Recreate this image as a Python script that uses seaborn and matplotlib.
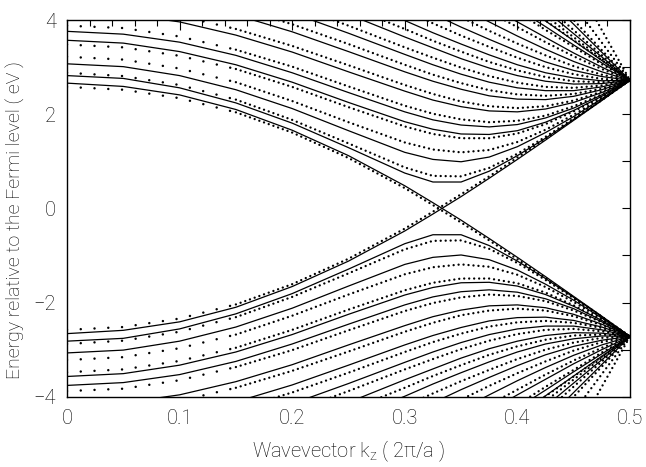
import numpy as np
import pandas as pd
import matplotlib
matplotlib.use("Agg")
import matplotlib.pyplot as plt
from matplotlib.ticker import MultipleLocator
import seaborn as sns

# Wavevector sampling (units of 2*pi/a) shared by all bands
k_grid = [0.0, 0.05, 0.1, 0.15, 0.2, 0.25, 0.3, 0.325, 0.35, 0.375, 0.4, 0.425, 0.45, 0.475, 0.5]

# Conduction subbands, solid curves (eV)
cond_lines = [
    [2.82, 2.76, 2.56, 2.24, 1.81, 1.29, 0.75, 0.56, 0.56, 0.79, 1.12, 1.49, 1.89, 2.30, 2.72],
    [3.07, 3.01, 2.82, 2.52, 2.12, 1.65, 1.19, 1.04, 0.99, 1.09, 1.31, 1.61, 1.95, 2.33, 2.72],
    [3.57, 3.51, 3.33, 3.05, 2.68, 2.25, 1.84, 1.68, 1.58, 1.57, 1.65, 1.83, 2.08, 2.38, 2.72],
    [3.76, 3.70, 3.53, 3.25, 2.88, 2.46, 2.05, 1.88, 1.77, 1.73, 1.78, 1.92, 2.13, 2.41, 2.72],
    [4.19, 4.13, 3.96, 3.68, 3.32, 2.90, 2.49, 2.30, 2.16, 2.07, 2.05, 2.11, 2.25, 2.46, 2.72],
    [4.62, 4.56, 4.39, 4.11, 3.75, 3.33, 2.90, 2.70, 2.53, 2.39, 2.32, 2.31, 2.38, 2.52, 2.72],
    [5.02, 4.96, 4.79, 4.51, 4.15, 3.72, 3.27, 3.05, 2.85, 2.68, 2.56, 2.50, 2.50, 2.58, 2.72],
    [5.44, 5.38, 5.21, 4.93, 4.56, 4.12, 3.64, 3.41, 3.18, 2.98, 2.82, 2.70, 2.64, 2.65, 2.72],
    [5.83, 5.77, 5.60, 5.32, 4.94, 4.48, 3.99, 3.73, 3.49, 3.26, 3.05, 2.88, 2.77, 2.71, 2.72],
    [6.32, 6.26, 6.08, 5.79, 5.40, 4.93, 4.40, 4.13, 3.85, 3.59, 3.34, 3.11, 2.93, 2.80, 2.72],
    [6.88, 6.82, 6.63, 6.33, 5.93, 5.43, 4.87, 4.57, 4.27, 3.96, 3.66, 3.38, 3.12, 2.90, 2.72],
    [7.40, 7.34, 7.15, 6.83, 6.41, 5.90, 5.30, 4.98, 4.64, 4.30, 3.96, 3.63, 3.30, 3.00, 2.72],
    [7.88, 7.82, 7.62, 7.30, 6.86, 6.32, 5.69, 5.35, 4.99, 4.62, 4.24, 3.86, 3.47, 3.09, 2.72],
]

# Valence subbands, solid curves (eV)
val_lines = [
    [-2.82, -2.76, -2.56, -2.24, -1.81, -1.29, -0.75, -0.56, -0.56, -0.79, -1.12, -1.49, -1.89, -2.30, -2.72],
    [-3.07, -3.01, -2.82, -2.52, -2.12, -1.65, -1.19, -1.04, -0.99, -1.09, -1.31, -1.61, -1.95, -2.33, -2.72],
    [-3.57, -3.51, -3.33, -3.05, -2.68, -2.25, -1.84, -1.68, -1.58, -1.57, -1.65, -1.83, -2.08, -2.38, -2.72],
    [-3.76, -3.70, -3.53, -3.25, -2.88, -2.46, -2.05, -1.88, -1.77, -1.73, -1.78, -1.92, -2.13, -2.41, -2.72],
    [-4.19, -4.13, -3.96, -3.68, -3.32, -2.90, -2.49, -2.30, -2.16, -2.07, -2.05, -2.11, -2.25, -2.46, -2.72],
    [-4.62, -4.56, -4.39, -4.11, -3.75, -3.33, -2.90, -2.70, -2.53, -2.39, -2.32, -2.31, -2.38, -2.52, -2.72],
    [-5.02, -4.96, -4.79, -4.51, -4.15, -3.72, -3.27, -3.05, -2.85, -2.68, -2.56, -2.50, -2.50, -2.58, -2.72],
    [-5.44, -5.38, -5.21, -4.93, -4.56, -4.12, -3.64, -3.41, -3.18, -2.98, -2.82, -2.70, -2.64, -2.65, -2.72],
    [-5.83, -5.77, -5.60, -5.32, -4.94, -4.48, -3.99, -3.73, -3.49, -3.26, -3.05, -2.88, -2.77, -2.71, -2.72],
    [-6.32, -6.26, -6.08, -5.79, -5.40, -4.93, -4.40, -4.13, -3.85, -3.59, -3.34, -3.11, -2.93, -2.80, -2.72],
    [-6.88, -6.82, -6.63, -6.33, -5.93, -5.43, -4.87, -4.57, -4.27, -3.96, -3.66, -3.38, -3.12, -2.90, -2.72],
    [-7.40, -7.34, -7.15, -6.83, -6.41, -5.90, -5.30, -4.98, -4.64, -4.30, -3.96, -3.63, -3.30, -3.00, -2.72],
    [-7.88, -7.82, -7.62, -7.30, -6.86, -6.32, -5.69, -5.35, -4.99, -4.62, -4.24, -3.86, -3.47, -3.09, -2.72],
]

# Crossing (metallic) bands, solid curves (eV)
cross_lines = [
    [2.66, 2.59, 2.41, 2.10, 1.66, 1.12, 0.48, 0.12, -0.25, -0.64, -1.04, -1.45, -1.87, -2.29, -2.72],
    [-2.66, -2.59, -2.41, -2.10, -1.66, -1.12, -0.48, -0.12, 0.25, 0.64, 1.04, 1.45, 1.87, 2.29, 2.72],
]

# Second calculation, drawn as dots (eV)
cond_dots = [
    [2.88, 2.81, 2.62, 2.31, 1.88, 1.38, 0.87, 0.69, 0.68, 0.86, 1.16, 1.52, 1.91, 2.31, 2.72],
    [3.22, 3.16, 2.97, 2.68, 2.28, 1.83, 1.40, 1.25, 1.19, 1.24, 1.41, 1.67, 1.99, 2.34, 2.72],
    [3.48, 3.42, 3.24, 2.96, 2.58, 2.15, 1.74, 1.58, 1.49, 1.49, 1.59, 1.79, 2.06, 2.37, 2.72],
    [3.88, 3.83, 3.65, 3.37, 3.01, 2.59, 2.18, 2.01, 1.89, 1.83, 1.86, 1.97, 2.17, 2.42, 2.72],
    [4.32, 4.26, 4.09, 3.81, 3.45, 3.04, 2.62, 2.43, 2.27, 2.17, 2.13, 2.17, 2.29, 2.48, 2.72],
    [4.77, 4.72, 4.54, 4.27, 3.91, 3.49, 3.05, 2.84, 2.66, 2.51, 2.42, 2.39, 2.43, 2.54, 2.72],
    [5.19, 5.13, 4.96, 4.68, 4.32, 3.88, 3.42, 3.20, 2.99, 2.81, 2.67, 2.58, 2.56, 2.61, 2.72],
    [5.63, 5.57, 5.39, 5.11, 4.74, 4.29, 3.81, 3.56, 3.33, 3.11, 2.93, 2.79, 2.70, 2.68, 2.72],
    [6.08, 6.02, 5.85, 5.56, 5.17, 4.71, 4.20, 3.93, 3.67, 3.43, 3.20, 3.00, 2.85, 2.75, 2.72],
    [6.60, 6.53, 6.35, 6.06, 5.66, 5.18, 4.63, 4.35, 4.06, 3.77, 3.50, 3.25, 3.02, 2.84, 2.72],
    [7.20, 7.13, 6.95, 6.64, 6.22, 5.71, 5.13, 4.82, 4.50, 4.17, 3.85, 3.53, 3.23, 2.96, 2.72],
    [7.75, 7.69, 7.49, 7.17, 6.74, 6.21, 5.58, 5.25, 4.90, 4.54, 4.17, 3.79, 3.43, 3.06, 2.72],
    [8.16, 8.09, 7.89, 7.57, 7.12, 6.57, 5.92, 5.56, 5.19, 4.80, 4.40, 3.99, 3.57, 3.15, 2.72],
    [2.58, 2.52, 2.34, 2.04, 1.61, 1.07, 0.43, 0.07, -0.30, -0.68, -1.08, -1.48, -1.89, -2.30, -2.72],
]
val_dots = [
    [-2.88, -2.81, -2.62, -2.31, -1.88, -1.38, -0.87, -0.69, -0.68, -0.86, -1.16, -1.52, -1.91, -2.31, -2.72],
    [-3.22, -3.16, -2.97, -2.68, -2.28, -1.83, -1.40, -1.25, -1.19, -1.24, -1.41, -1.67, -1.99, -2.34, -2.72],
    [-3.48, -3.42, -3.24, -2.96, -2.58, -2.15, -1.74, -1.58, -1.49, -1.49, -1.59, -1.79, -2.06, -2.37, -2.72],
    [-3.88, -3.83, -3.65, -3.37, -3.01, -2.59, -2.18, -2.01, -1.89, -1.83, -1.86, -1.97, -2.17, -2.42, -2.72],
    [-4.32, -4.26, -4.09, -3.81, -3.45, -3.04, -2.62, -2.43, -2.27, -2.17, -2.13, -2.17, -2.29, -2.48, -2.72],
    [-4.77, -4.72, -4.54, -4.27, -3.91, -3.49, -3.05, -2.84, -2.66, -2.51, -2.42, -2.39, -2.43, -2.54, -2.72],
    [-5.19, -5.13, -4.96, -4.68, -4.32, -3.88, -3.42, -3.20, -2.99, -2.81, -2.67, -2.58, -2.56, -2.61, -2.72],
    [-5.63, -5.57, -5.39, -5.11, -4.74, -4.29, -3.81, -3.56, -3.33, -3.11, -2.93, -2.79, -2.70, -2.68, -2.72],
    [-6.08, -6.02, -5.85, -5.56, -5.17, -4.71, -4.20, -3.93, -3.67, -3.43, -3.20, -3.00, -2.85, -2.75, -2.72],
    [-6.60, -6.53, -6.35, -6.06, -5.66, -5.18, -4.63, -4.35, -4.06, -3.77, -3.50, -3.25, -3.02, -2.84, -2.72],
    [-7.20, -7.13, -6.95, -6.64, -6.22, -5.71, -5.13, -4.82, -4.50, -4.17, -3.85, -3.53, -3.23, -2.96, -2.72],
    [-7.75, -7.69, -7.49, -7.17, -6.74, -6.21, -5.58, -5.25, -4.90, -4.54, -4.17, -3.79, -3.43, -3.06, -2.72],
    [-8.16, -8.09, -7.89, -7.57, -7.12, -6.57, -5.92, -5.56, -5.19, -4.80, -4.40, -3.99, -3.57, -3.15, -2.72],
    [-2.58, -2.52, -2.34, -2.04, -1.61, -1.07, -0.43, -0.07, 0.30, 0.68, 1.08, 1.48, 1.89, 2.30, 2.72],
]

# Steep high-lying branches near the zone edge
edge_k = [0.4, 0.5]
edge_lines = [
    [4.40, 2.72], [4.70, 2.72], [5.10, 2.72],
    [-4.40, -2.72], [-4.70, -2.72], [-5.10, -2.72],
]
edge_dots = [
    [4.55, 2.72], [4.85, 2.72], [5.28, 2.72], [5.92, 2.72], [6.99, 2.72],
    [-4.55, -2.72], [-4.85, -2.72], [-5.28, -2.72], [-5.92, -2.72], [-6.99, -2.72],
]

x_ticks = [0.0, 0.1, 0.2, 0.3, 0.4, 0.5]
x_tick_labels = ["0", "0.1", "0.2", "0.3", "0.4", "0.5"]
y_ticks = [-4, -2, 0, 2, 4]
y_tick_labels = ["\u22124", "\u22122", "0", "2", "4"]


def to_long(bands, ks, tag, k_lo=None, k_hi=None):
    rows = []
    for i, band in enumerate(bands):
        for k, e in zip(ks, band):
            if k_lo is not None and k < k_lo:
                continue
            if k_hi is not None and k > k_hi:
                continue
            rows.append((f"{tag}{i}", k, e))
    return pd.DataFrame(rows, columns=["band", "k", "E"])


solid_df = pd.concat([to_long(cond_lines, k_grid, "c"),
                      to_long(val_lines, k_grid, "v"),
                      to_long(cross_lines, k_grid, "x"),
                      to_long(edge_lines, edge_k, "e")], ignore_index=True)

# the dotted data are sampled more coarsely near the zone centre
split_k = 0.15
dot_sparse_df = pd.concat([to_long(cond_dots, k_grid, "dc", k_hi=split_k),
                           to_long(val_dots, k_grid, "dv", k_hi=split_k)],
                          ignore_index=True)
dot_dense_df = pd.concat([to_long(cond_dots, k_grid, "dc", k_lo=split_k),
                          to_long(val_dots, k_grid, "dv", k_lo=split_k),
                          to_long(edge_dots, edge_k, "de")], ignore_index=True)

sns.set_theme(style="white")
plt.rcParams["font.family"] = ["Roboto", "DejaVu Sans"]
plt.rcParams["font.weight"] = "light"
plt.rcParams["axes.labelweight"] = "light"
plt.rcParams["mathtext.fontset"] = "custom"
plt.rcParams["mathtext.rm"] = "Roboto:light"
plt.rcParams["mathtext.it"] = "Roboto:light"

fig = plt.figure(figsize=(6.46, 4.67), dpi=100)
ax = fig.add_axes([0.1037, 0.1505, 0.8715, 0.8066])

sns.lineplot(data=solid_df, x="k", y="E", units="band", estimator=None,
             sort=False, color="black", lw=0.9, legend=False, ax=ax)
sns.lineplot(data=dot_sparse_df, x="k", y="E", units="band", estimator=None,
             sort=False, color="black", lw=1.8, legend=False, ax=ax,
             linestyle=(0, (0.01, 5.5)), dash_capstyle="round")
sns.lineplot(data=dot_dense_df, x="k", y="E", units="band", estimator=None,
             sort=False, color="black", lw=1.7, legend=False, ax=ax,
             linestyle=(0, (0.01, 2.1)), dash_capstyle="round")

ax.set_xlim(0, 0.5)
ax.set_ylim(-4, 4)
ax.set_xticks(x_ticks)
ax.set_xticklabels(x_tick_labels)
ax.xaxis.set_minor_locator(MultipleLocator(0.02))
ax.set_yticks(y_ticks)
ax.set_yticklabels(y_tick_labels)
ax.yaxis.set_minor_locator(MultipleLocator(1))

ax.tick_params(axis="both", which="both", direction="in", top=True, right=True,
               color="black", width=0.8, labelsize=14.5, labelcolor="black")
ax.tick_params(axis="x", which="major", length=7, pad=9)
ax.tick_params(axis="x", which="minor", length=4)
ax.tick_params(axis="y", which="both", length=5.5, pad=8)
for s in ax.spines.values():
    s.set_color("black")
    s.set_linewidth(1.0)

ax.set_xlabel("Wavevector k$_z$ ( 2\u03c0/a )", fontsize=14.5, color="black",
              va="top", fontweight="light")
ax.xaxis.set_label_coords(0.5, -0.112)
ax.set_ylabel("Energy relative to the Fermi level ( eV )", fontsize=14,
              color="black", fontweight="light")
ax.yaxis.set_label_coords(-0.074, 0.47)

fig.savefig("out.png", dpi=100)
